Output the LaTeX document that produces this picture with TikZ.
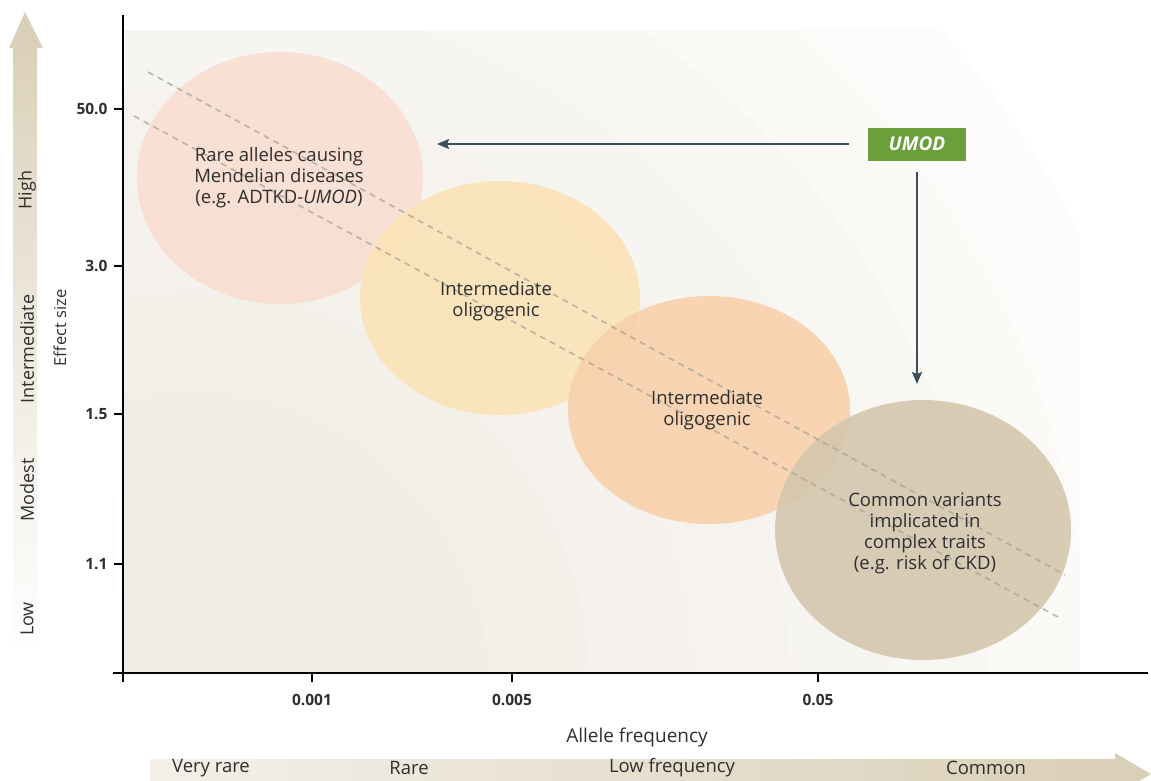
\documentclass[tikz,border=0pt]{standalone}
\usepackage{fontspec}
\setmainfont{Open Sans}
\usetikzlibrary{arrows.meta,shapes.geometric}
\definecolor{txt}{HTML}{2F2F2F}
\definecolor{slate}{HTML}{3D4E5B}
\definecolor{umodg}{HTML}{6A9F3C}
\definecolor{pinkc}{HTML}{F8DDD0}
\definecolor{yelc}{HTML}{FCE3B6}
\definecolor{orac}{HTML}{F8D0AA}
\definecolor{tanc}{HTML}{D4C6AD}
\definecolor{bandc}{HTML}{D9CEB6}
\definecolor{bgin}{HTML}{E6DED1}
\definecolor{dashc}{HTML}{A9A49C}
\begin{document}
\begin{tikzpicture}[x=1pt,y=-1pt,
  blob/.style={ellipse, draw=none, fill opacity=0.88, inner sep=0pt},
  blobtext/.style={text=txt, align=center, font=\fontsize{18.5}{21}\selectfont},
  tick/.style={line width=1.1pt, draw=black},
  ticklab/.style={text=txt, font=\fontsize{15.5}{17}\selectfont\bfseries},
  scalelab/.style={text=txt, font=\fontsize{18.5}{20}\selectfont},
  sidelab/.style={text=txt, font=\fontsize{18}{20}\selectfont, rotate=90},
  arr/.style={draw=slate, line width=2pt, -{Stealth[length=12pt,width=10pt,inset=2pt]}},
  trend/.style={draw=dashc, line width=1.7pt, dash pattern=on 6pt off 5pt, opacity=0.75}
]
\useasboundingbox (0,0) rectangle (1151,780);
% background: concentric soft rings from the lower left
\begin{scope}
\clip (123,30) rectangle (1080,673);
\foreach \r in {1000,900,800,700,600,500,400,300,200,120}{
  \fill[bgin, opacity=0.085] (190,690) circle (\r);
}
\end{scope}
% left scale arrow
\shade[top color=bandc, bottom color=white, middle color=bandc!45] (13,48) -- (13,655) -- (37,655) -- (37,48) -- (43,48) -- (25,12) -- (9,48) -- cycle;
\node[sidelab] (lHigh) at (27,190) {High};
\node[sidelab] (lInt) at (27,349) {Intermediate};
\node[sidelab] (lMod) at (27,490) {Modest};
\node[sidelab] (lLow) at (27,619) {Low};
\node[text=txt, font=\fontsize{16.5}{18}\selectfont, rotate=90] (ylab) at (60,328) {Effect size};
% bottom scale arrow
\shade[left color=white!70!bandc, right color=bandc] (150,759) -- (1115,759) -- (1115,753) -- (1151,774) -- (1115,795) -- (1115,789) -- (150,789) -- cycle;
\node[scalelab] (bVR) at (211,768) {Very rare};
\node[scalelab] (bR) at (409,768) {Rare};
\node[scalelab] (bLF) at (672,768) {Low frequency};
\node[scalelab] (bC) at (986,768) {Common};
% axes
\draw[line width=1.1pt] (123,15) -- (123,682);
\draw[line width=1.1pt] (113,673) -- (1148,673);
\foreach \yy/\lab in {109/50.0,266/3.0,414/1.5,564/1.1}{
  \draw[tick] (114,\yy) -- (123,\yy);
  \node[ticklab, anchor=east] at (111,\yy) {\lab};
}
\foreach \xx/\lab in {312/0.001,512/0.005,818/0.05}{
  \draw[tick] (\xx,673) -- (\xx,682);
  \node[ticklab] at (\xx,700) {\lab};
}
\node[text=txt, font=\fontsize{19}{21}\selectfont] (xlab) at (637,737) {Allele frequency};
% ellipses
\node[blob, fill=pinkc, minimum width=286pt, minimum height=252pt] (e1) at (280,178) {};
\node[blob, fill=yelc, minimum width=280pt, minimum height=234pt] (e2) at (500,298) {};
\node[blob, fill=orac, minimum width=282pt, minimum height=228pt] (e3) at (709,410) {};
\node[blob, fill=tanc, minimum width=296pt, minimum height=260pt] (e4) at (923,530) {};
% trend lines
\draw[trend] (148,72) -- (1065,575);
\draw[trend] (134,116) -- (1058,617);
% texts
\node[blobtext] (t1) at (279,178) {Rare alleles causing\\Mendelian diseases\\(e.g. ADTKD-\textit{UMOD})};
\node[blobtext] (t2) at (496,301) {Intermediate\\oligogenic};
\node[blobtext] (t3) at (707,410) {Intermediate\\oligogenic};
\node[blobtext] (t4) at (925,533) {Common variants\\implicated in\\complex traits\\(e.g. risk of CKD)};
% UMOD
\node[fill=umodg, text=white, minimum width=98pt, minimum height=33pt, inner sep=0pt, font=\fontsize{19}{21}\selectfont\itshape\bfseries] (umod) at (917,144) {UMOD};
\coordinate (hEnd) at (437,144);
\coordinate (vEnd) at (917,384);
\draw[arr, shorten <=19pt] (umod.west) -- (hEnd);
\draw[arr, shorten <=11pt] (umod.south) -- (vEnd);
\end{tikzpicture}
\end{document}
